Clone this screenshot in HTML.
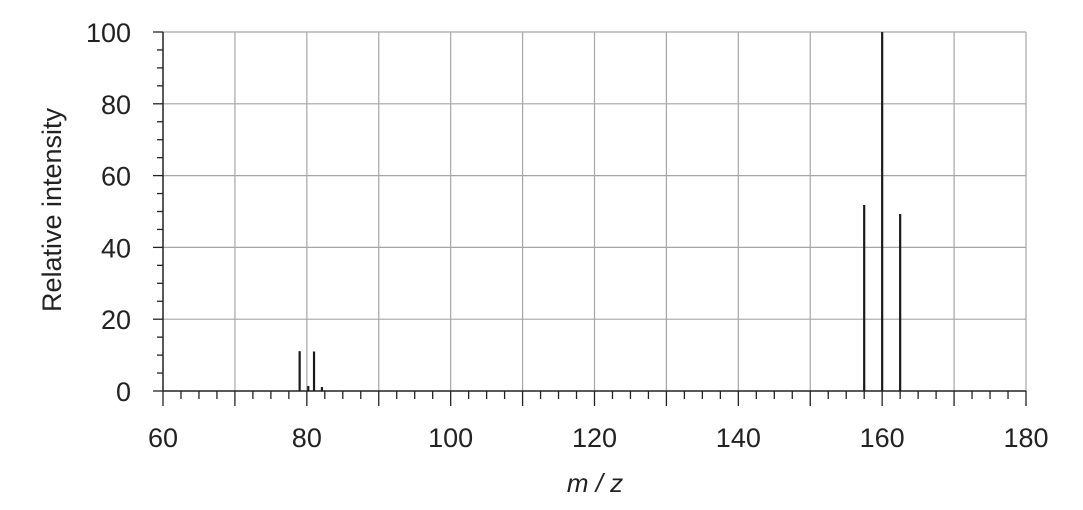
<!DOCTYPE html>
<html><head><meta charset="utf-8"><style>
body{margin:0;background:#fff}
svg{display:block;font-family:"Liberation Sans",Arial,sans-serif}
</style></head><body>
<svg id="chart" width="1083" height="510" viewBox="0 0 1083 510">
<g id="grid"></g>
<g id="axes"></g>
<g id="bars"></g>
<text transform="translate(61,210) rotate(-90)" text-anchor="middle" font-size="27" fill="#222">Relative intensity</text>
<text x="595" y="492" text-anchor="middle" font-size="26" font-style="italic" fill="#222">m / z</text>
</svg>
<script>
const mzValues = [79, 80.2, 81, 82.1, 157.5, 160, 162.5];
const intensities = [11.1, 1.4, 11.0, 1.1, 51.8, 100, 49.3];
const xTicks = [60, 80, 100, 120, 140, 160, 180];
const yTicks = [0, 20, 40, 60, 80, 100];
const X0=163,X1=1026,Y0=391,Y1=32;
const xs=v=>X0+(v-60)/120*(X1-X0);
const ys=v=>Y0-v/100*(Y0-Y1);
const NS='http://www.w3.org/2000/svg';
function mk(parent,tag,attrs){const e=document.createElementNS(NS,tag);for(const k in attrs)e.setAttribute(k,attrs[k]);parent.appendChild(e);return e;}
const grid=document.getElementById('grid'),axes=document.getElementById('axes'),bars=document.getElementById('bars');
for(let v=70;v<=180;v+=10){const l=mk(grid,'line',{x1:xs(v),x2:xs(v),y1:Y1,y2:Y0,stroke:'#a6a6a6','stroke-width':1.2});

}
for(let v=20;v<=100;v+=20){const l=mk(grid,'line',{x1:X0,x2:X1,y1:ys(v),y2:ys(v),stroke:'#a6a6a6','stroke-width':1.2});

}
const xa=mk(axes,'line',{x1:X0,x2:X1,y1:Y0,y2:Y0,stroke:'#222','stroke-width':1.5});


const ya=mk(axes,'line',{x1:X0,x2:X0,y1:Y1,y2:Y0,stroke:'#222','stroke-width':1.5});


for(let v=60;v<=180;v+=2.5){const major=v%10===0;const t=mk(axes,'line',{x1:xs(v),x2:xs(v),y1:Y0,y2:Y0+(major?15:8),stroke:'#222','stroke-width':1.3});

}
for(let v=0;v<=100;v+=5){const t=mk(axes,'line',{x1:X0-(v%20===0?10:6),x2:X0,y1:ys(v),y2:ys(v),stroke:'#222','stroke-width':1.3});

}
xTicks.forEach(v=>{const t=mk(axes,'text',{x:xs(v),y:447,'text-anchor':'middle','font-size':27,fill:'#222'});t.textContent=v;

});
yTicks.forEach(v=>{const t=mk(axes,'text',{x:131,y:ys(v)+10,'text-anchor':'end','font-size':27,fill:'#222'});t.textContent=v;

});
mzValues.forEach((m,i)=>{const b=mk(bars,'line',{x1:xs(m),x2:xs(m),y1:Y0,y2:ys(intensities[i]),stroke:'#1a1a1a','stroke-width':2.2});

});
</script>
</body></html>
